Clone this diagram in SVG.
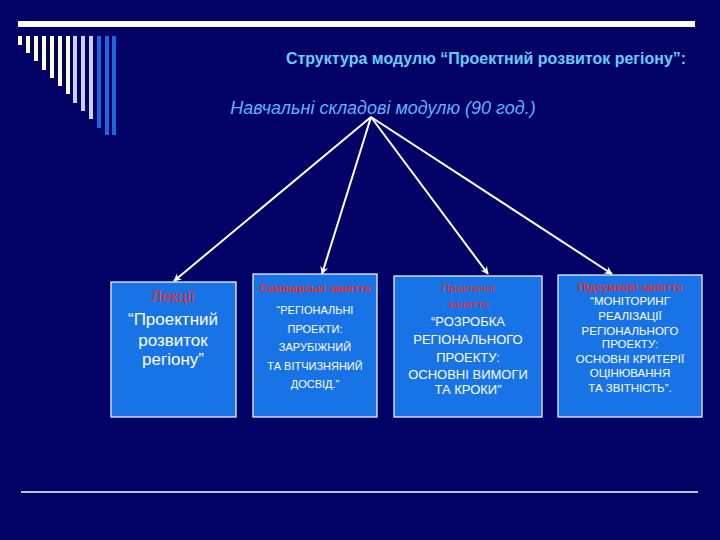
<svg xmlns="http://www.w3.org/2000/svg" width="720" height="540" viewBox="0 0 720 540">
<defs>
<marker id="ah" viewBox="0 0 10 10" refX="9" refY="5" markerWidth="8" markerHeight="8" orient="auto" markerUnits="userSpaceOnUse">
<path d="M0,0 L10,5 L0,10 L3,5 Z" fill="#ffffff"/>
</marker>
<style>
.box{fill:#1874e6;stroke:#ffffff;stroke-width:1.2}
.red{fill:#e03030;font-family:"Liberation Sans",Arial,sans-serif;text-anchor:middle}
.wt{fill:#ffffff;font-family:"Liberation Sans",Arial,sans-serif;text-anchor:middle}
.cr{fill:#ffffcc}
.lv{fill:#ccccff}
.bl{fill:#2266dd}
.conn{stroke:#ffffff;stroke-width:2;fill:none;marker-end:url(#ah)}
</style>
</defs>
<rect x="0" y="0" width="720" height="540" fill="#020266"/>
<g id="decor">
<rect x="18" y="21" width="677" height="6" fill="#ffffff"/>
<rect class="cr" x="18" y="36" width="4" height="9"/>
<rect class="cr" x="26" y="36" width="4" height="17"/>
<rect class="cr" x="34" y="36" width="4" height="25"/>
<rect class="cr" x="42" y="36" width="4" height="34"/>
<rect class="cr" x="50" y="36" width="4" height="42"/>
<rect class="cr" x="58" y="36" width="4" height="50"/>
<rect class="cr" x="66" y="36" width="4" height="58"/>
<rect class="lv" x="73" y="36" width="4" height="67"/>
<rect class="lv" x="81" y="36" width="4" height="75"/>
<rect class="lv" x="89" y="36" width="4" height="83"/>
<rect class="bl" x="97" y="36" width="4" height="92"/>
<rect class="bl" x="105" y="36" width="4" height="99"/>
<rect class="bl" x="112" y="36" width="4" height="99"/>
<line x1="21" y1="492" x2="698" y2="492" stroke="#ffffff" stroke-width="1.5"/>
</g>
<g id="title">
<text x="486" y="64" font-family="Liberation Sans,Arial,sans-serif" font-size="16" font-weight="bold" fill="#66ccff" text-anchor="middle">Структура модулю “Проектний розвиток регіону”:</text>
</g>
<g id="root">
<text x="383" y="114" font-family="Liberation Sans,Arial,sans-serif" font-size="18" font-style="italic" fill="#5ab4ff" text-anchor="middle">Навчальні складові модулю (90 год.)</text>
</g>
<g id="connectors">
<line class="conn" x1="371" y1="117" x2="174" y2="281"/>
<line class="conn" x1="371" y1="117" x2="322" y2="274"/>
<line class="conn" x1="371" y1="117" x2="488" y2="274"/>
<line class="conn" x1="371" y1="117" x2="612" y2="274"/>
</g>
<g id="lectures">
<rect class="box" x="111" y="282" width="125" height="135"/>
<text class="red" x="173" y="302" font-size="16">Лекції</text>
<text class="wt" x="173" y="325" font-size="17">“Проектний</text>
<text class="wt" x="173" y="346" font-size="17">розвиток</text>
<text class="wt" x="173" y="365" font-size="17">регіону”</text>
</g>
<g id="seminar">
<rect class="box" x="253" y="274" width="124" height="143"/>
<text class="red" x="315" y="292" font-size="11" font-weight="bold">Семінарські заняття</text>
<text class="wt" x="315" y="314" font-size="11">“РЕГІОНАЛЬНІ</text>
<text class="wt" x="315" y="333" font-size="11">ПРОЕКТИ:</text>
<text class="wt" x="315" y="351" font-size="11">ЗАРУБІЖНИЙ</text>
<text class="wt" x="315" y="370" font-size="11">ТА ВІТЧИЗНЯНИЙ</text>
<text class="wt" x="315" y="388" font-size="11">ДОСВІД.”</text>
</g>
<g id="practical">
<rect class="box" x="394" y="276" width="148" height="141"/>
<text class="red" x="468" y="292" font-size="11.5">Практичні</text>
<text class="red" x="468" y="308" font-size="11.5">заняття</text>
<text class="wt" x="468" y="326" font-size="13">“РОЗРОБКА</text>
<text class="wt" x="468" y="344" font-size="13">РЕГІОНАЛЬНОГО</text>
<text class="wt" x="468" y="362" font-size="13">ПРОЕКТУ:</text>
<text class="wt" x="468" y="379" font-size="13">ОСНОВНІ ВИМОГИ</text>
<text class="wt" x="468" y="394" font-size="13">ТА КРОКИ”</text>
</g>
<g id="final">
<rect class="box" x="558" y="275" width="144" height="142"/>
<text class="red" x="630" y="291" font-size="11" font-weight="bold">Підсумкові заняття</text>
<text class="wt" x="630" y="305" font-size="11.5">“МОНІТОРИНГ</text>
<text class="wt" x="630" y="320" font-size="11.5">РЕАЛІЗАЦІЇ</text>
<text class="wt" x="630" y="335" font-size="11.5">РЕГІОНАЛЬНОГО</text>
<text class="wt" x="630" y="348" font-size="11.5">ПРОЕКТУ:</text>
<text class="wt" x="630" y="363" font-size="11.5">ОСНОВНІ КРИТЕРІЇ</text>
<text class="wt" x="630" y="377" font-size="11.5">ОЦІНЮВАННЯ</text>
<text class="wt" x="630" y="392" font-size="11.5">ТА ЗВІТНІСТЬ”.</text>
</g>
</svg>
